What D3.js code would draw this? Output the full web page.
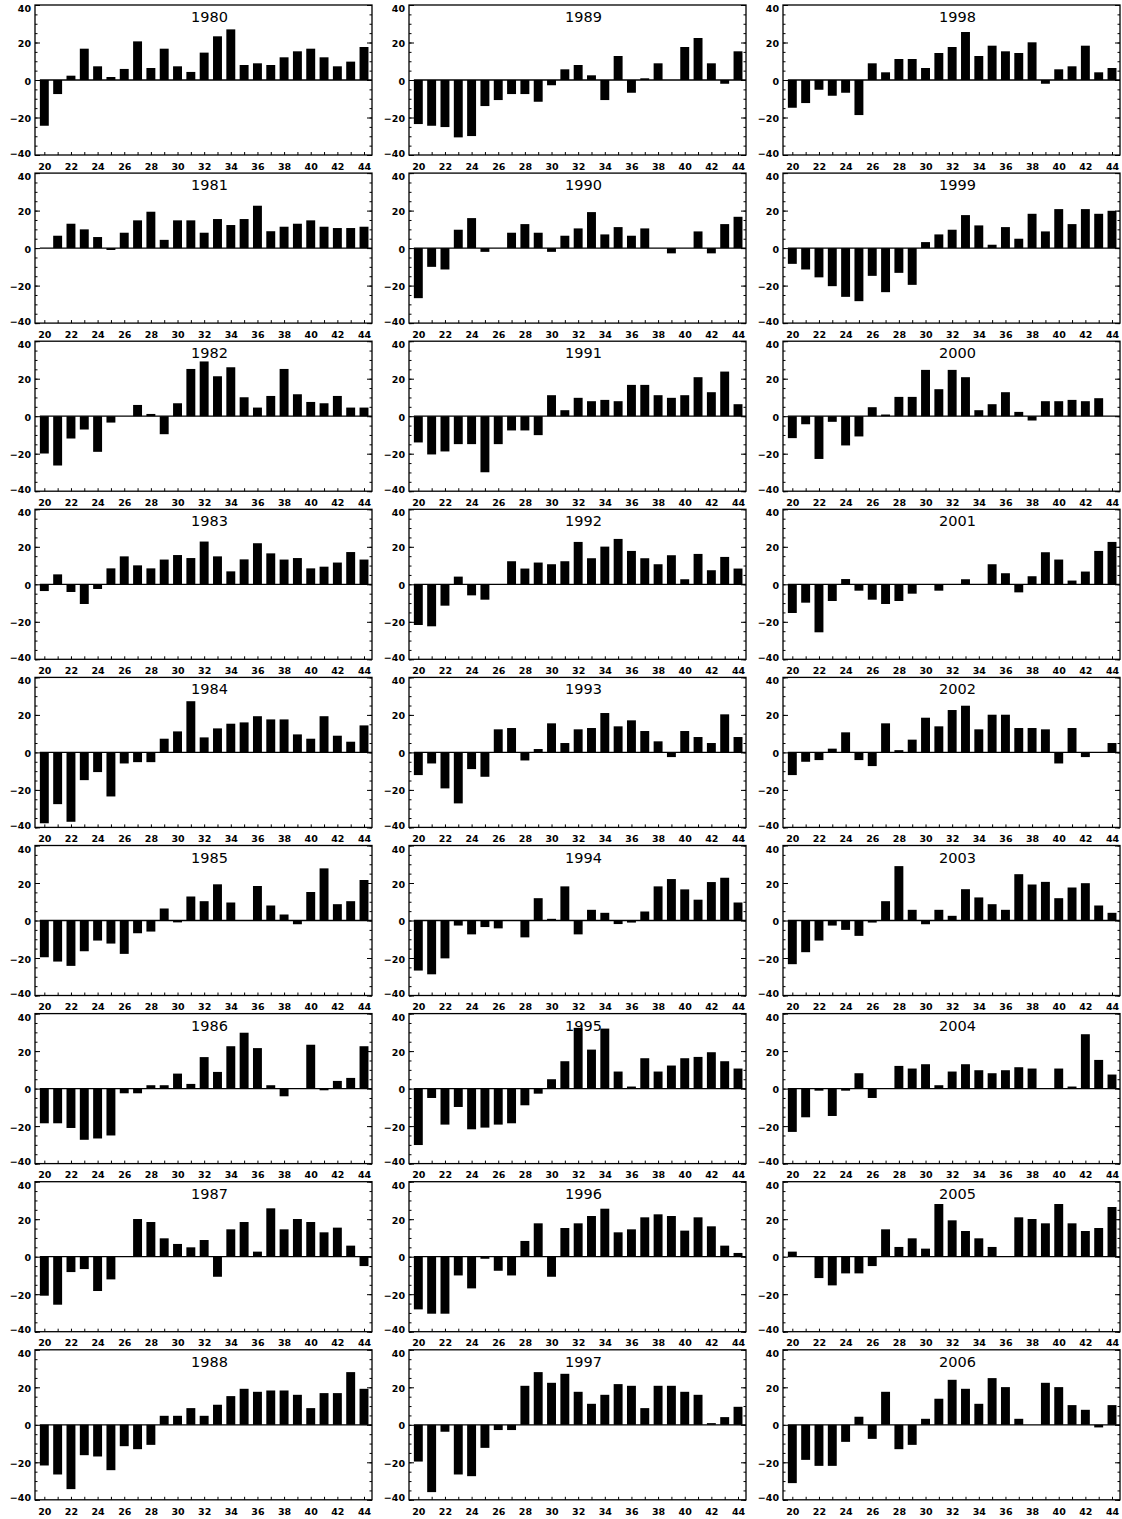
<!DOCTYPE html>
<html><head><meta charset="utf-8">
<script src="https://cdn.jsdelivr.net/npm/d3@7"></script>
<style>html,body{margin:0;padding:0;background:#fff;}svg{display:block;}</style>
</head><body>
<svg id="chart" width="1122" height="1519"></svg>
<script>
// x categories (index 20..44)
const categories = d3.range(20, 45);
const yearLabels = [1980,1981,1982,1983,1984,1985,1986,1987,1988,1989,1990,1991,1992,1993,1994,1995,1996,1997,1998,1999,2000,2001,2002,2003,2004,2005,2006];
const yTickMajor = [-40,-20,0,20,40];

const y1980 = [-24.4,-7.5,2.3,16.7,7.3,1.6,5.9,20.6,6.4,16.7,7.3,4.3,14.6,23.3,27,8,8.9,8,12.1,15.3,16.7,12.1,7.3,9.8,17.6];
const y1981 = [0,6.6,13,10,5.9,-1,8.2,14.8,19.4,4.4,14.8,14.8,8.2,15.5,12.3,15.5,22.6,9,11.4,13,14.8,11.4,10.7,10.7,11.4];
const y1982 = [-19.9,-26.3,-11.9,-7.1,-19,-3.4,0,6,1.2,-9.6,6.9,25.2,29.2,21.3,26.1,10.1,4.6,10.8,25.2,11.7,7.6,6.9,10.8,4.6,4.6];
const y1983 = [-3.6,5.3,-4.1,-10.5,-2.5,8.5,14.9,10.1,8.5,13.2,15.6,14,22.8,14.9,6.9,13.3,21.9,16.5,13.2,14,8.5,9.4,11.6,17.2,13.2];
const y1984 = [-37.8,-27.6,-37,-14.8,-10.5,-23.5,-5.9,-5.2,-5.2,7.3,11.2,27.3,8,12.8,15.3,16,19.3,17.6,17.6,9.6,7.3,19.3,8.9,5.7,14.4];
const y1985 = [-19.6,-21.9,-24.2,-16.4,-10.7,-12.3,-17.8,-6.8,-5.9,6.4,-1,12.8,10.3,19.3,9.6,0,18.4,8,3.2,-2,15.2,27.8,8.7,10.3,21.6];
const y1986 = [-18.5,-18.5,-21,-27.3,-26.6,-25,-2.5,-2.5,1.8,1.8,8,2.5,16.8,8.9,22.6,29.8,21.6,1.8,-4.1,0,23.4,-0.9,4.1,5.7,22.6];
const y1987 = [-20.8,-25.6,-8.2,-6.6,-18.3,-12.1,0,20.1,18.5,9.8,6.8,5,8.9,-10.7,14.6,18.5,2.7,25.8,14.6,20.1,18.5,13,15.5,5.9,-5];
const y1988 = [-21.7,-26.5,-34.3,-16.2,-16.9,-24.2,-11.4,-13,-10.7,4.8,4.8,8.9,4.8,10.7,15.3,19.2,17.6,18.3,18.3,16,8.9,16.9,16.9,28.1,19.2];
const y1989 = [-23.5,-24.4,-25.1,-30.6,-29.9,-13.9,-10.7,-7.5,-7.5,-11.6,-2.8,5.7,8,2.5,-10.7,12.8,-6.8,0.9,8.9,0,17.6,22.4,8.9,-2,15.3];
const y1990 = [-26.7,-10,-11.4,9.8,16,-2,0,8.2,12.8,8.2,-2,6.6,10.5,19.2,7.3,11.2,6.6,10.5,0,-2.8,0,8.9,-2.8,12.8,16.7];
const y1991 = [-14,-20.4,-18.8,-14.9,-14.9,-29.9,-14.9,-7.6,-7.6,-10.1,11.2,3.2,9.8,8,8.7,8,16.7,16.7,11.2,9.8,11.2,20.8,12.8,23.8,6.4];
const y1992 = [-21.7,-22.4,-11.4,4.1,-5.9,-8.2,0,12.3,8.4,11.6,10.7,12.3,22.6,13.9,20.1,24.2,17.8,13.9,10.7,15.5,2.7,16.2,7.5,14.6,8.4];
const y1993 = [-12.1,-5.9,-19.2,-27.2,-8.9,-13,12.3,13,-4.3,1.8,15.5,5,12.3,13,21,13.9,17.1,11.4,5.9,-2.5,11.4,8.2,5,20.3,8.2];
const y1994 = [-26.7,-28.7,-20.2,-2.7,-7.4,-3.5,-4.2,0,-9,11.9,0.9,18.2,-7.4,5.7,4.1,-1.9,-1.1,4.8,18.2,22.1,16.6,11.1,20.5,22.8,9.6];
const y1995 = [-30.1,-5,-19.2,-9.8,-21.7,-20.8,-19.2,-18.5,-8.9,-2.7,5,14.6,32.4,20.8,32,9.1,1.1,16.2,9.1,12.3,16.2,16.9,19.4,14.6,10.7];
const y1996 = [-28.1,-30.4,-30.4,-10,-16.9,-1.1,-7.5,-10,8.4,17.8,-10.7,15.3,17.8,21.7,25.6,13,14.6,21,22.6,21.7,13.9,21,16.2,5.9,2];
const y1997 = [-19.6,-35.9,-3.7,-26.5,-27.4,-12.3,-2.8,-2.8,20.8,28.1,22.4,27.2,17.6,11.2,16,21.7,20.8,8.9,20.8,20.8,17.6,16,0.9,4.1,9.6];
const y1998 = [-14.8,-12.3,-5.2,-8.4,-6.8,-18.7,8.9,4.1,11.2,11.2,6.4,14.4,17.6,25.6,12.8,18.3,15.3,14.4,20.1,-2,5.7,7.3,18.3,4.1,6.4];
const y1999 = [-8.4,-11.4,-15.6,-20.3,-26,-28.3,-14.8,-23.5,-13.2,-19.6,3.2,7.3,9.8,17.6,12.1,1.8,11.2,5,18.3,8.9,20.8,12.8,20.8,18.3,19.9];
const y2000 = [-11.7,-4.3,-22.8,-3,-15.6,-10.8,4.8,0.9,10.3,10.3,24.7,14.4,24.7,20.8,3.2,6.4,12.8,2.3,-2.3,8,8,8.7,8,9.6,0];
const y2001 = [-15.3,-9.8,-25.6,-8.9,2.8,-3.4,-8.2,-10.5,-8.9,-5,0,-3.4,0,2.7,0,10.7,5.9,-4.3,4.3,17.1,13.2,2,6.8,17.8,22.6];
const y2002 = [-12.1,-5,-4.1,2,10.7,-4.1,-7.3,15.5,1.2,6.8,18.5,13.9,22.6,24.9,12.3,20.1,20.1,13,13,12.3,-5.9,13,-2.5,0,5];
const y2003 = [-23.3,-16.9,-10.7,-2.7,-5,-8.2,-1.1,10.3,29,5.7,-2,5.7,2.5,16.7,12.3,8.7,5.7,24.7,19.2,20.6,11.9,17.6,19.9,8,4.1];
const y2004 = [-23.1,-15.3,-1.1,-14.6,-1.1,8.2,-5,0,12.1,10.7,13,1.8,9.1,13,9.8,8.2,9.8,11.4,10.7,0,10.7,1.1,29,15.3,7.5];
const y2005 = [2.7,0,-11.4,-15.3,-8.9,-8.9,-5,14.6,5.2,9.8,4.3,28.1,19.4,13.7,9.8,5.2,0,21,20.1,17.8,28.1,17.8,13.7,15.3,26.5];
const y2006 = [-31.1,-18.7,-21.9,-21.9,-9.1,4.3,-7.5,17.6,-13,-10.7,3.2,13.9,24,19.2,11.2,24.9,20.1,3.2,0,22.4,20.1,10.5,8,-1.4,10.5];

const seriesList = [y1980,y1981,y1982,y1983,y1984,y1985,y1986,y1987,y1988,
                    y1989,y1990,y1991,y1992,y1993,y1994,y1995,y1996,y1997,
                    y1998,y1999,y2000,y2001,y2002,y2003,y2004,y2005,y2006];

const svg = d3.select("#chart");
svg.append("rect").attr("width",1122).attr("height",1519).attr("fill","#fff");

const plotW = 337, plotH = 150;
const colStep = 374, rowStep = 168.1, left0 = 35, top0 = 5;
const x = d3.scaleLinear().domain([19.3, 44.6]).range([0, plotW]);
const y = d3.scaleLinear().domain([-40, 40]).range([plotH, 0]);
const barW = (x(21) - x(20)) * 0.67;
const tickFont = "'DejaVu Sans', sans-serif";

yearLabels.forEach((yr, i) => {
  const col = Math.floor(i / 9), row = i % 9;
  const vals = seriesList[i];
  const g = svg.append("g")
    .attr("transform", `translate(${left0 + col*colStep},${top0 + row*rowStep})`);

  // title (under bars)
  g.append("text")
    .attr("x", plotW/2 + 6).attr("y", 17)
    .attr("text-anchor","middle")
    .attr("font-family", tickFont)
    .attr("font-size", 14.5)
    .attr("fill","#000")
    .text(yr);

  // bars
  g.selectAll("rect.bar").data(categories.map((c, k) => ({c, v: vals[k]})))
    .join("rect").attr("class","bar")
    .attr("x", d => x(d.c) - barW/2)
    .attr("width", barW)
    .attr("y", d => y(Math.max(0, d.v)))
    .attr("height", d => Math.abs(y(d.v) - y(0)))
    .attr("fill","#000");

  // zero line
  g.append("line")
    .attr("x1", x(20) - barW/2).attr("x2", plotW)
    .attr("y1", y(0)).attr("y2", y(0))
    .attr("stroke","#000").attr("stroke-width",1.3);

  const styleAxis = sel => {
    sel.select(".domain").remove();
    sel.selectAll("line").attr("stroke","#000").attr("stroke-width",1);
    sel.attr("font-family", tickFont).attr("font-size", 9.5).attr("font-weight","bold");
    sel.selectAll("text").attr("fill","#000");
  };

  // y minor ticks left & right
  g.append("g").call(d3.axisLeft(y).tickValues(d3.range(-40, 41, 5)).tickSize(-2.5).tickSizeOuter(0).tickFormat("")).call(styleAxis);
  g.append("g").attr("transform",`translate(${plotW},0)`)
    .call(d3.axisRight(y).tickValues(d3.range(-40, 41, 5)).tickSize(-2.5).tickSizeOuter(0).tickFormat("")).call(styleAxis);
  // y major ticks
  g.append("g").call(d3.axisLeft(y).tickValues(yTickMajor).tickSize(-5).tickSizeOuter(0).tickPadding(4))
    .call(styleAxis)
    .call(s => s.selectAll("text").attr("y", d => d === 40 ? 3.5 : (d === -40 ? -2 : 1)));
  g.append("g").attr("transform",`translate(${plotW},0)`)
    .call(d3.axisRight(y).tickValues(yTickMajor).tickSize(-5).tickSizeOuter(0).tickFormat("")).call(styleAxis);

  // x axis
  g.append("g").attr("transform",`translate(0,${plotH})`)
    .call(d3.axisBottom(x).tickValues(categories).tickSize(-3).tickSizeOuter(0).tickPadding(8)
      .tickFormat(d => d % 2 === 0 ? d : ""))
    .call(styleAxis);

  // frame
  g.append("rect").attr("width", plotW).attr("height", plotH)
    .attr("fill","none").attr("stroke","#000").attr("stroke-width",1.3);
});
</script>
</body></html>
